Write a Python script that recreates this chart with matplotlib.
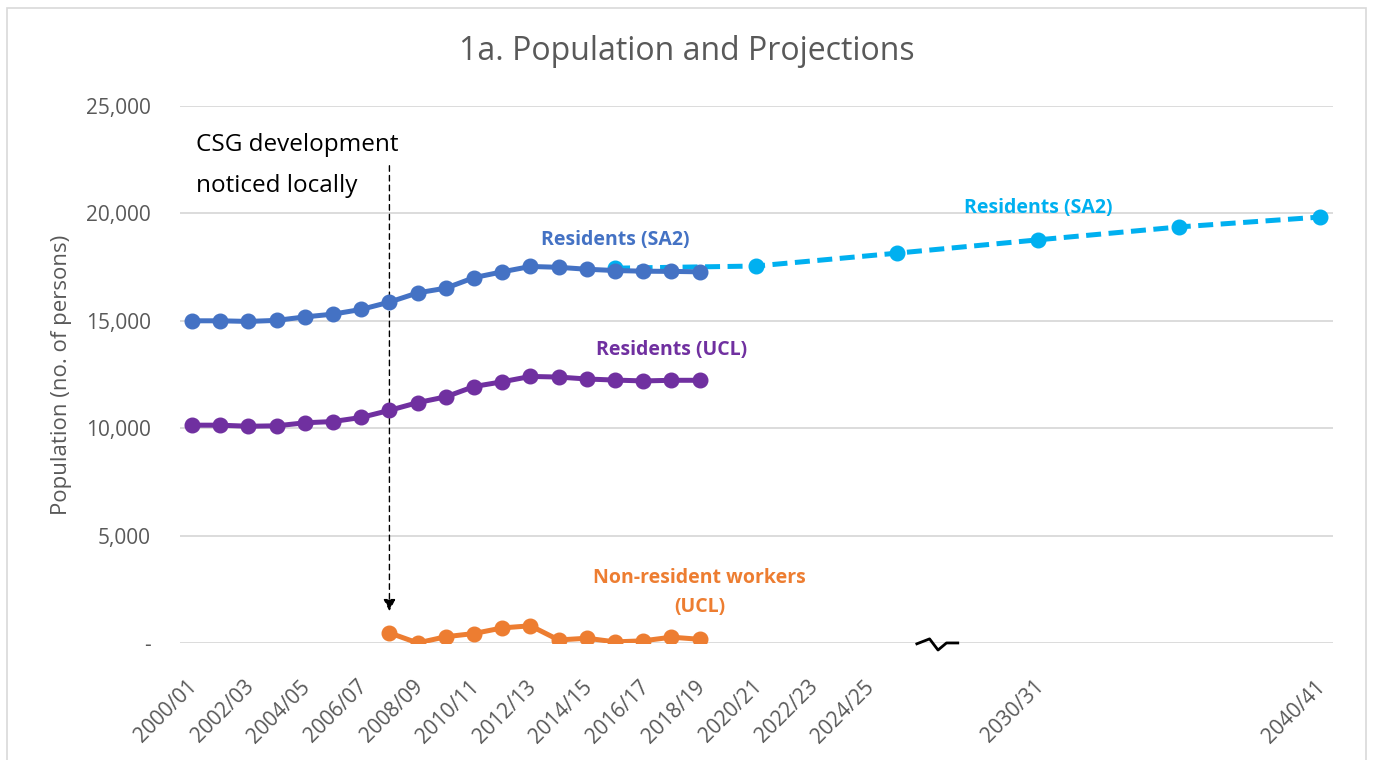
import matplotlib
matplotlib.use("Agg")
import matplotlib.pyplot as plt
import matplotlib.transforms as mtransforms
from matplotlib.patches import Rectangle

plt.rcParams['font.family'] = ['Open Sans', 'DejaVu Sans']

# ---- data ----
years = list(range(2000, 2019))                 # 2000/01 .. 2018/19
residents_sa2 = [15000, 15000, 14970, 15020, 15180, 15310, 15530, 15870, 16300, 16520,
                 17010, 17280, 17530, 17490, 17400, 17340, 17310, 17300, 17280]
residents_ucl = [10140, 10140, 10090, 10110, 10250, 10310, 10500, 10830, 11190, 11460,
                 11940, 12160, 12410, 12380, 12290, 12240, 12200, 12230, 12230]
nonres_years = list(range(2007, 2019))
nonres_workers = [470, 0, 290, 440, 700, 800, 140, 220, 50, 100, 270, 170]
proj_years = [2015, 2020, 2025, 2030, 2035, 2040]
proj_sa2 = [17450, 17550, 18150, 18770, 19370, 19830]

tick_years = [2000, 2002, 2004, 2006, 2008, 2010, 2012, 2014, 2016, 2018,
              2020, 2022, 2024, 2030, 2040]
tick_labels = [f"{y}/{str(y + 1)[-2:]}" for y in tick_years]
y_ticks = [0, 5000, 10000, 15000, 20000, 25000]
y_tick_labels = ["-", "5,000", "10,000", "15,000", "20,000", "25,000"]

C_SA2 = "#4472C4"
C_UCL = "#7030A0"
C_NR = "#ED7D31"
C_PROJ = "#00B0F0"
GRAY = "#595959"

fig = plt.figure(figsize=(13.73, 7.6), dpi=100)
fig.patches.append(Rectangle((0.005, -0.01), 0.99, 1.0, transform=fig.transFigure,
                             fill=False, edgecolor="#D9D9D9", lw=1.2))
ax = fig.add_axes([0.131, 0.154, 0.840, 0.7065])

lw = 3.6
ms = 10.5
ax.plot(proj_years, proj_sa2, color=C_PROJ, lw=lw, ls=(0, (3, 1.5)), marker="o",
        ms=ms, zorder=3)
ax.plot(years, residents_sa2, color=C_SA2, lw=lw, marker="o", ms=ms, zorder=4)
ax.plot(years, residents_ucl, color=C_UCL, lw=lw, marker="o", ms=ms, zorder=4)
ax.plot(nonres_years, nonres_workers, color=C_NR, lw=lw, marker="o", ms=ms, zorder=4)

ax.set_xlim(1999.57, 2040.46)
ax.set_ylim(0, 25000)
ax.set_yticks(y_ticks)
ax.set_yticklabels(y_tick_labels)
ax.set_xticks(tick_years)
ax.set_xticklabels(tick_labels, rotation=45, ha="right", rotation_mode="anchor")
ax.tick_params(axis="both", length=0, labelsize=15, labelcolor=GRAY)
ax.tick_params(axis="x", pad=24)
ax.tick_params(axis="y", pad=21)
shift = mtransforms.ScaledTranslation(-5 / 100, 0, fig.dpi_scale_trans)
for lab in ax.get_xticklabels():
    lab.set_transform(lab.get_transform() + shift)
for s in ax.spines.values():
    s.set_visible(False)
ax.grid(axis="y", color="#D9D9D9", lw=1.3, zorder=0)
ax.set_axisbelow(True)

ax.set_ylabel("Population (no. of persons)", fontsize=16, color=GRAY, labelpad=10)
fig.text(0.5, 0.932, "1a. Population and Projections", ha="center", va="center",
         fontsize=23, color=GRAY)

# axis-break squiggle
ax.plot([2025.7, 2026.15, 2026.45, 2026.75, 2027.15], [-40, 190, -330, 0, 0],
        color="black", lw=2.0, zorder=5, clip_on=False)

# series labels
fs_lab = 14
ax.text(2015.0, 18760, "Residents (SA2)", color=C_SA2, fontsize=fs_lab,
        fontweight="bold", ha="center", va="center")
ax.text(2017.0, 13640, "Residents (UCL)", color=C_UCL, fontsize=fs_lab,
        fontweight="bold", ha="center", va="center")
ax.text(2018.0, 3030, "Non-resident workers", color=C_NR, fontsize=fs_lab,
        fontweight="bold", ha="center", va="center")
ax.text(2018.0, 1680, "(UCL)", color=C_NR, fontsize=fs_lab,
        fontweight="bold", ha="center", va="center")
ax.text(2030.0, 20250, "Residents (SA2)", color=C_PROJ, fontsize=fs_lab,
        fontweight="bold", ha="center", va="center")

# annotation
ax.text(2000.15, 23170, "CSG development", fontsize=17.5, color="black",
        ha="left", va="center")
ax.text(2000.15, 21270, "noticed locally", fontsize=17.5, color="black",
        ha="left", va="center")
ax.annotate("", xy=(2007.0, 1350), xytext=(2007.0, 22350),
            arrowprops=dict(arrowstyle="-|>", color="black", lw=1.0,
                            ls=(0, (4, 3)), mutation_scale=18))

fig.savefig("out.png", dpi=100)
